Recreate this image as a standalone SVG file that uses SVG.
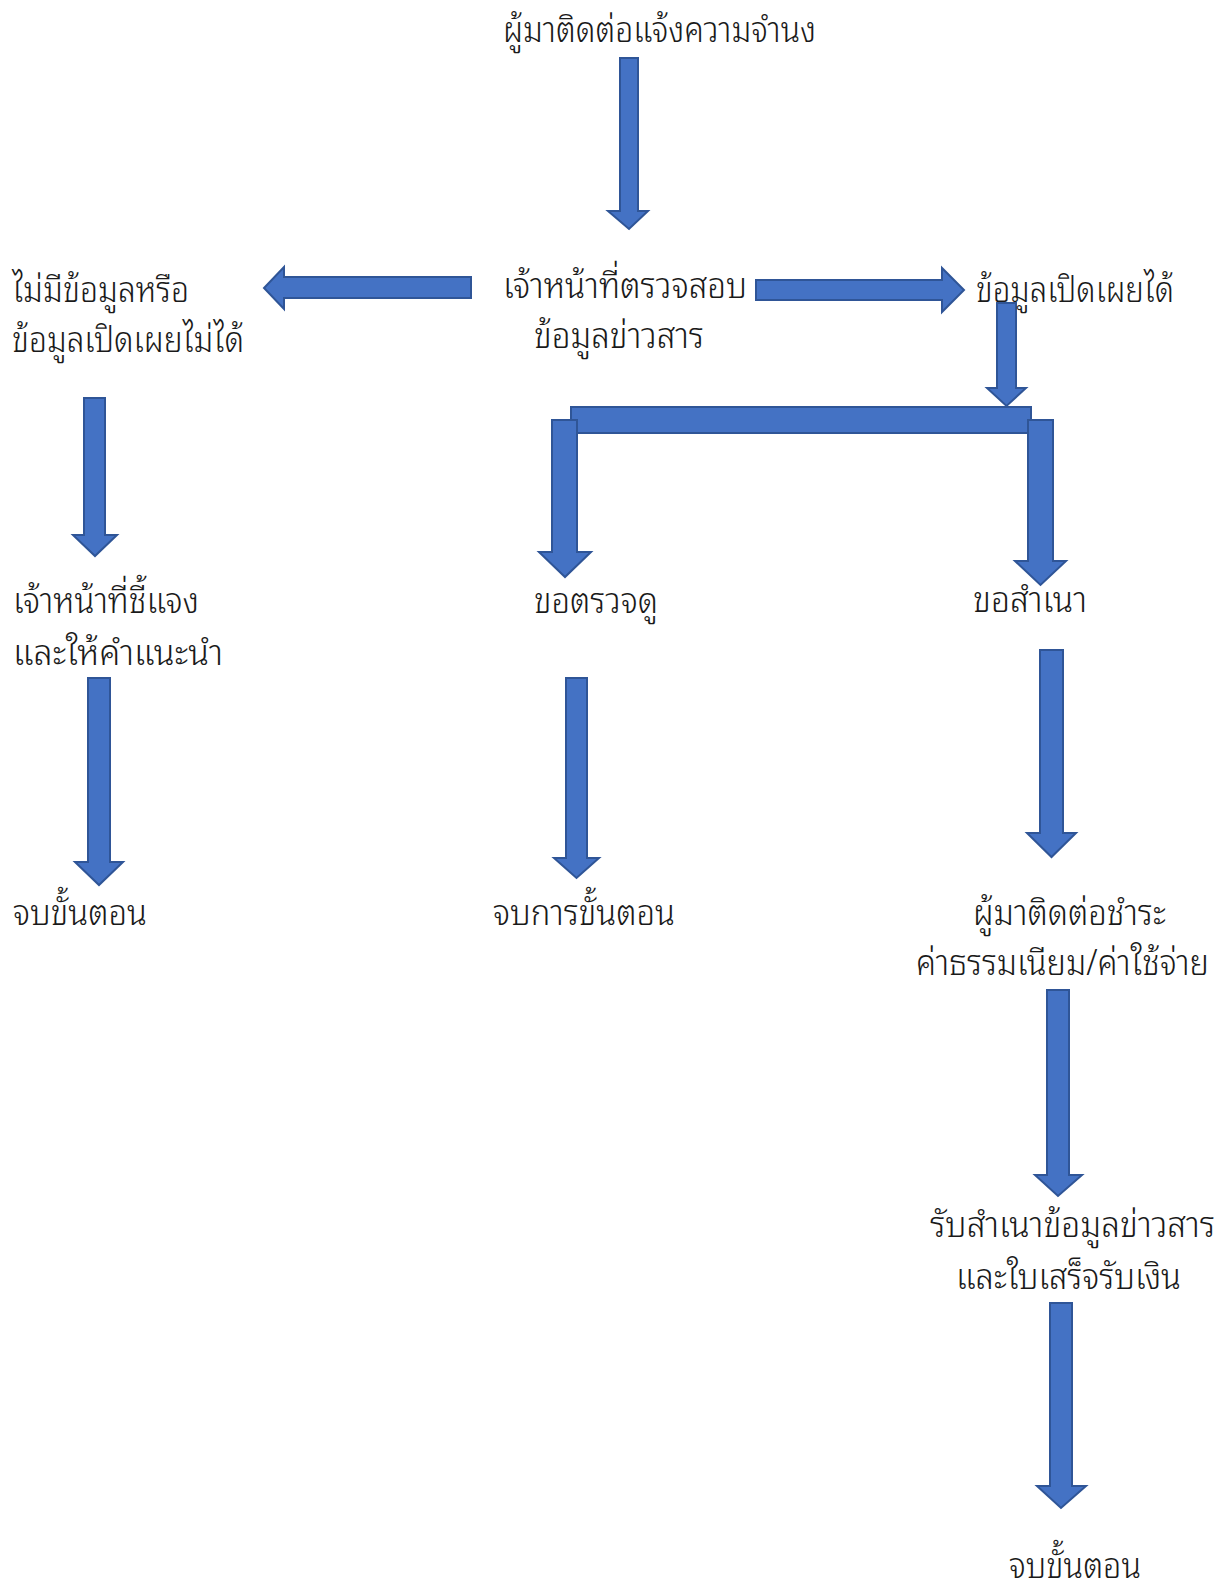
<svg xmlns="http://www.w3.org/2000/svg" width="1224" height="1586" viewBox="0 0 1224 1586">
<style>
.t{font-family:"Noto Sans Thai Looped","Noto Sans Thai","Noto Sans","DejaVu Sans",sans-serif;font-size:36px;font-weight:300;fill:#1a1a1a}
.a{fill:#4472C4;stroke:#2F5597;stroke-width:2;stroke-linejoin:miter}
</style>
<rect width="1224" height="1586" fill="#ffffff"/>
<g id="connectors">
<polygon class="a" points="620,58 638,58 638,211 648,211 629,229 608,211 620,211"/>
<polygon class="a" points="471,277 471,298 284,298 284,309 264,288 284,267 284,277"/>
<polygon class="a" points="756,280 942,280 942,268 964,290 942,312 942,300 756,300"/>
<polygon class="a" points="997,303 1016,303 1016,388 1026,388 1006.5,406 987,388 997,388"/>
<rect class="a" x="571" y="407" width="460" height="26"/>
<polygon class="a" points="552,420 577,420 577,552 591,552 565,577 539,552 552,552"/>
<polygon class="a" points="1028,420 1053,420 1053,561 1066,561 1040.5,585 1015,561 1028,561"/>
<polygon class="a" points="84,398 105,398 105,535 117,535 95,556 73,535 84,535"/>
<polygon class="a" points="88,678 110,678 110,862 123,862 99,885 75,862 88,862"/>
<polygon class="a" points="566,678 587,678 587,858 599,858 576.5,878 554,858 566,858"/>
<polygon class="a" points="1040,650 1063,650 1063,833 1076,833 1051.5,857 1027,833 1040,833"/>
<polygon class="a" points="1047,990 1069,990 1069,1175 1082,1175 1058,1196 1035,1175 1047,1175"/>
<polygon class="a" points="1050,1303 1072,1303 1072,1486 1086,1486 1061,1508 1037,1486 1050,1486"/>
</g>
<g id="n1"><text class="t" x="503" y="42" textLength="313" lengthAdjust="spacingAndGlyphs">ผู้มาติดต่อแจ้งความจำนง</text></g>
<g id="n2"><text class="t" x="503" y="298" textLength="244" lengthAdjust="spacingAndGlyphs">เจ้าหน้าที่ตรวจสอบ</text><text class="t" x="534" y="348" textLength="170" lengthAdjust="spacingAndGlyphs">ข้อมูลข่าวสาร</text></g>
<g id="n3"><text class="t" x="12" y="302" textLength="177" lengthAdjust="spacingAndGlyphs">ไม่มีข้อมูลหรือ</text><text class="t" x="12" y="352" textLength="232" lengthAdjust="spacingAndGlyphs">ข้อมูลเปิดเผยไม่ได้</text></g>
<g id="n4"><text class="t" x="976" y="302" textLength="198" lengthAdjust="spacingAndGlyphs">ข้อมูลเปิดเผยได้</text></g>
<g id="n5"><text class="t" x="13" y="613" textLength="186" lengthAdjust="spacingAndGlyphs">เจ้าหน้าที่ชี้แจง</text><text class="t" x="13" y="665" textLength="210" lengthAdjust="spacingAndGlyphs">และให้คำแนะนำ</text></g>
<g id="n6"><text class="t" x="534" y="613" textLength="124" lengthAdjust="spacingAndGlyphs">ขอตรวจดู</text></g>
<g id="n7"><text class="t" x="973" y="612" textLength="114" lengthAdjust="spacingAndGlyphs">ขอสำเนา</text></g>
<g id="n8"><text class="t" x="13" y="925" textLength="134" lengthAdjust="spacingAndGlyphs">จบขั้นตอน</text></g>
<g id="n9"><text class="t" x="493" y="925" textLength="182" lengthAdjust="spacingAndGlyphs">จบการขั้นตอน</text></g>
<g id="n10"><text class="t" x="973" y="925" textLength="193" lengthAdjust="spacingAndGlyphs">ผู้มาติดต่อชำระ</text><text class="t" x="916" y="975" textLength="293" lengthAdjust="spacingAndGlyphs">ค่าธรรมเนียม/ค่าใช้จ่าย</text></g>
<g id="n11"><text class="t" x="930" y="1237" textLength="285" lengthAdjust="spacingAndGlyphs">รับสำเนาข้อมูลข่าวสาร</text><text class="t" x="956" y="1289" textLength="225" lengthAdjust="spacingAndGlyphs">และใบเสร็จรับเงิน</text></g>
<g id="n12"><text class="t" x="1009" y="1578" textLength="132" lengthAdjust="spacingAndGlyphs">จบขั้นตอน</text></g>
</svg>
